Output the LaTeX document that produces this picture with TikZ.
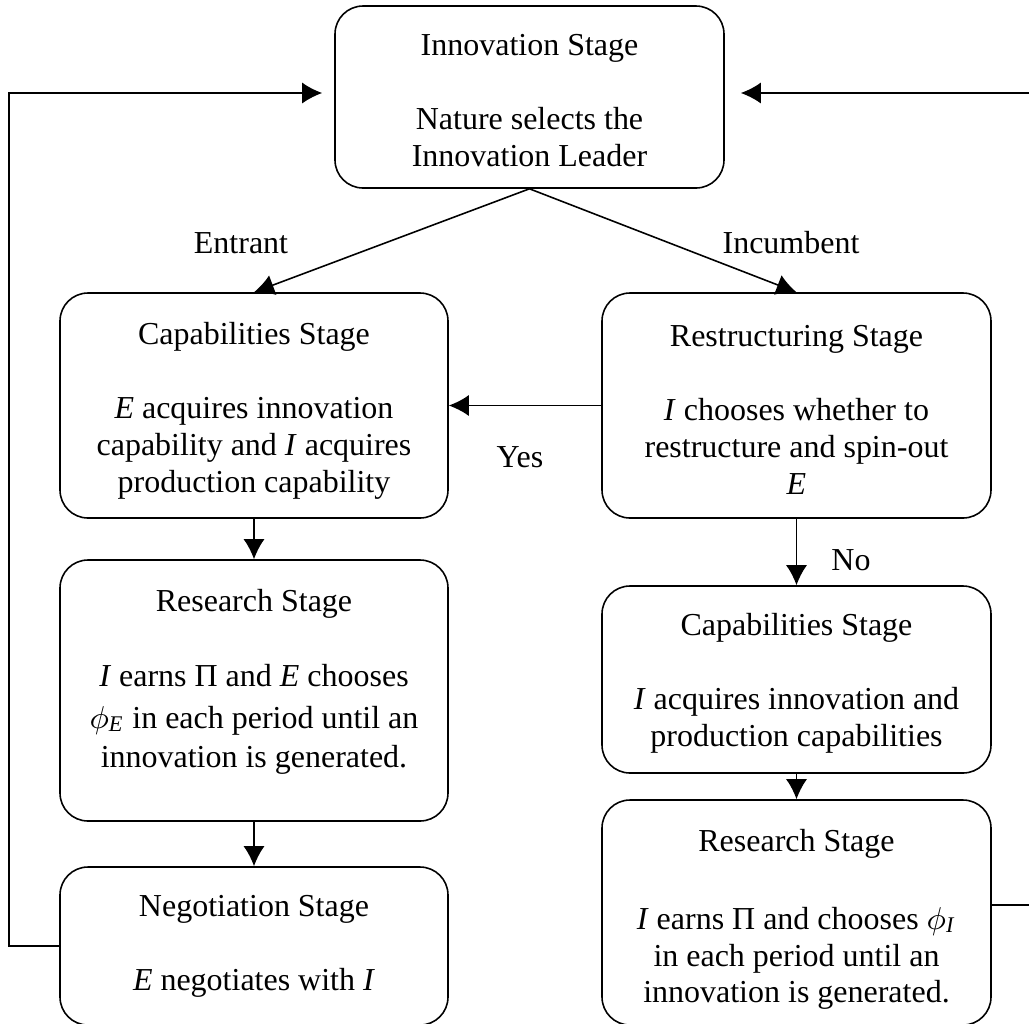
\documentclass[tikz,border=0pt]{standalone}
\usepackage{fontspec}
\setmainfont{Liberation Serif}
\usetikzlibrary{arrows.meta}
\tikzset{>={Latex[length=2mm,width=2.1mm]}}

\begin{document}
\begin{tikzpicture}[x=0.1mm,y=-0.1mm,font=\fontsize{9.1pt}{10.5pt}\selectfont]
        \useasboundingbox (0,0) rectangle (1029,1023);

        % Setup the style for the stages
        \tikzset{stage style/.style={draw,
                                    rounded corners=2.8mm,
                                    line width=0.45pt,
                                    align=center,
                                    inner sep=0pt}}
        % Draw the stages
        \node[stage style,minimum width=38.9mm,minimum height=18.2mm] at (529.5,97) (inn)
            {\rule{0pt}{2.8mm}Innovation Stage\\[3.7mm]Nature selects the\\Innovation Leader};
        \node[stage style,minimum width=38.8mm,minimum height=22.5mm] at (254,405.5) (capE)
            {\rule{0pt}{3.3mm}Capabilities Stage\\[3.7mm]\textit{E} acquires innovation\\capability and \textit{I} acquires\\production capability};
        \node[stage style,minimum width=38.9mm,minimum height=22.5mm] at (796.5,405.5) (restr)
            {\rule{0pt}{3mm}Restructuring Stage\\[3.7mm]\textit{I} chooses whether to\\restructure and spin-out\\\textit{E}};
        \node[stage style,minimum width=38.8mm,minimum height=26.1mm] at (254,690.5) (resE)
            {Research Stage\\[3.8mm]\textit{I} earns Π and \textit{E} chooses\\[0.5mm]$\phi$\textsubscript{\textit{E}} in each period until an\\[0.3mm]innovation is generated.\rule[-2.4mm]{0pt}{0pt}};
        \node[stage style,minimum width=38.8mm,minimum height=15.8mm] at (254,946) (nego)
            {Negotiation Stage\\[3.7mm]\textit{E} negotiates with \textit{I}};
        \node[stage style,minimum width=38.9mm,minimum height=18.7mm] at (796.5,679.5) (capI)
            {\rule{0pt}{2.9mm}Capabilities Stage\\[3.7mm]\textit{I} acquires innovation and\\production capabilities};
        \node[stage style,minimum width=38.9mm,minimum height=22.5mm] at (796.5,912.5) (resI)
            {\rule{0pt}{3.6mm}Research Stage\\[4.1mm]\textit{I} earns Π and chooses $\phi$\textsubscript{\textit{I}}\\in each period until an\\innovation is generated.};

        % Branch labels
        \node at (241,243) (entlbl) {Entrant};
        \node at (791,243) (inclbl) {Incumbent};
        \node at (520,457) (yeslbl) {Yes};
        \node at (851,560) (nolbl) {No};

        % Connect the stages with arrows
        \draw[line width=0.45pt]
            (inn.south) edge[->] (capE.north)
            (inn.south) edge[->] (restr.north)
            (restr.west) edge[->] (capE.east)
            (capE.south) edge[->] (resE.north)
            (resE.south) edge[->] (nego.north)
            (restr.south) edge[->] (capI.north)
            (capI.south) edge[->] (resI.north);
        % Back to the innovation stage
        \draw[line width=0.45pt,->] (nego.west) -- ++(-50,0) |- ([xshift=-1.2mm,yshift=0.4mm]inn.west);
        \draw[line width=0.45pt,->] ([yshift=0.75mm]resI.east) -- ++(44,0) |- ([xshift=1.6mm,yshift=0.4mm]inn.east);
    \end{tikzpicture}
\end{document}
